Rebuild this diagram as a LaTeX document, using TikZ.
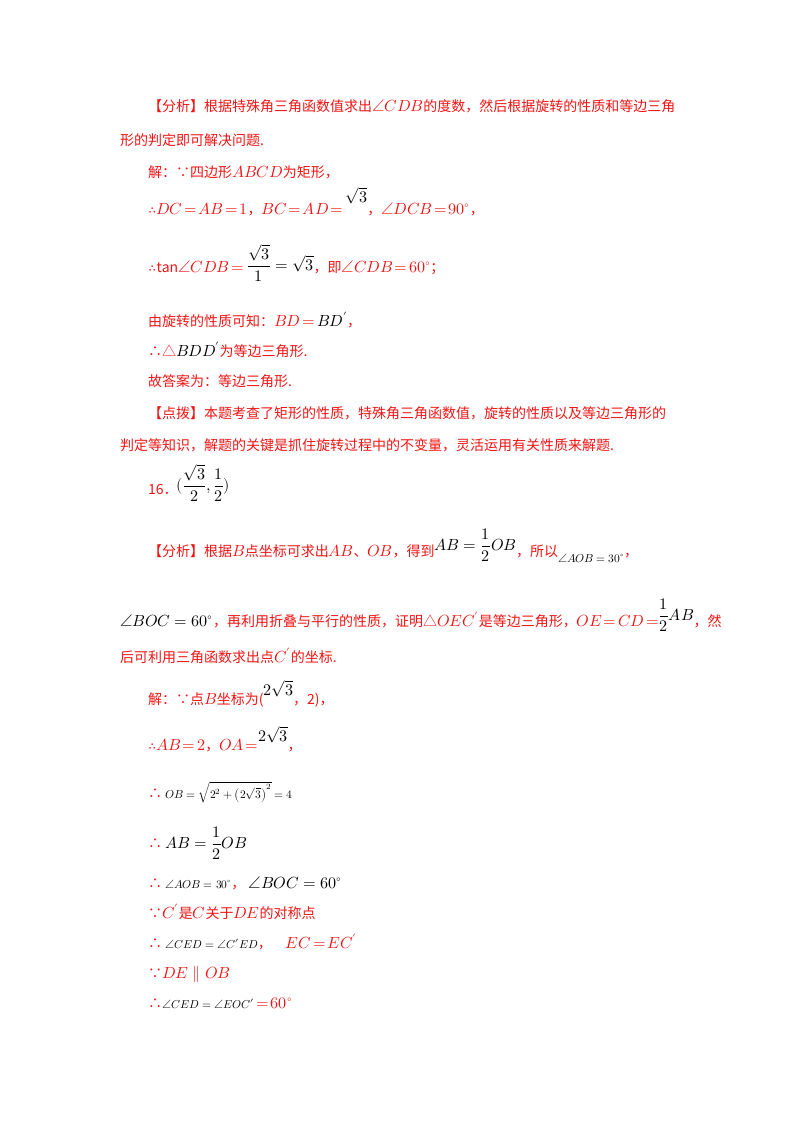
\documentclass[tikz,border=0pt]{standalone}
\usepackage{amsmath}
\usepackage{fontspec}
\usepackage{unicode-math}
\setmainfont{Noto Sans CJK SC}
\setmathfont{Latin Modern Math}[Scale=1.15]
\definecolor{rd}{RGB}{240,20,20}
\newcommand\smm{\fontsize{10}{12}\selectfont}
\begin{document}
\begin{tikzpicture}[x=1pt,y=1pt,
  ln/.style={anchor=base west,inner sep=0pt,text=rd,font=\fontsize{14}{16}\selectfont},
  bk/.style={anchor=base west,inner sep=0pt,text=black,font=\fontsize{14}{16}\selectfont}]
\useasboundingbox (0,0) rectangle (800,-1132);
\node[ln] (l1) at (148,-111) {【分析】根据特殊角三角函数值求出$\angle CDB$的度数，然后根据旋转的性质和等边三角};
\node[ln] (l2) at (120,-145) {形的判定即可解决问题.};
\node[ln] (l3) at (148,-177) {解：∵四边形$ABCD$为矩形，};
\node[ln] (l4) at (148,-214) {$\therefore DC\!=\!AB\!=\!1$，$BC\!=\!AD\!=$\ \raisebox{12pt}{\color{black}$\sqrt3$}，$\angle DCB\!=\!90^\circ$，};
\node[ln] (l5) at (148,-272) {$\therefore\mathrm{tan}\angle CDB\!=$\ \raisebox{2pt}{\color{black}$\dfrac{\sqrt3}{1}=\sqrt3$}，即$\angle CDB\!=\!60^\circ$；};
\node[ln] (l6) at (148,-326) {由旋转的性质可知：$BD\!=\,$\textcolor{black}{$BD'$}，};
\node[ln] (l7) at (148,-356) {∴△\textcolor{black}{$BDD'$}为等边三角形.};
\node[ln] (l8) at (148,-386) {故答案为：等边三角形.};
\node[ln] (l9) at (148,-418) {【点拨】本题考查了矩形的性质，特殊角三角函数值，旋转的性质以及等边三角形的};
\node[ln] (l10) at (120,-450) {判定等知识，解题的关键是抓住旋转过程中的不变量，灵活运用有关性质来解题.};
\node[ln] (l11) at (148,-494) {16．};
\node[bk] (l11b) at (176,-490) {$(\dfrac{\sqrt3}{2},\dfrac12)$};
\node[ln] (l12) at (148,-556) {【分析】根据$B$点坐标可求出$AB$、$OB$，得到\raisebox{6pt}{\color{black}$AB=\dfrac12 OB$}，所以\raisebox{-6pt}{\color{black}\smm$\angle AOB=30^\circ$}，};
\node[ln] (l13) at (120,-626) {\textcolor{black}{$\angle BOC=60^\circ$}，再利用折叠与平行的性质，证明△$OEC'$是等边三角形，$OE\!=\!CD\!=$\raisebox{6pt}{\color{black}$\dfrac12AB$}，然};
\node[ln] (l14) at (120,-662) {后可利用三角函数求出点$C'$的坐标.};
\node[ln] (l15) at (148,-704) {解：∵点$B$坐标为(\raisebox{9pt}{\color{black}$2\sqrt3$}，2)，};
\node[ln] (l16) at (148,-750) {$\therefore AB\!=\!2$，$OA\!=$\raisebox{9pt}{\color{black}$2\sqrt3$}，};
\node[ln] (l17) at (148,-798) {∴ \textcolor{black}{\smm$OB=\sqrt{2^2+\left(2\sqrt3\right)^2}=4$}};
\node[ln] (l18) at (148,-848) {∴ \textcolor{black}{$AB=\dfrac12OB$}};
\node[ln] (l19) at (148,-888) {∴ \textcolor{black}{\smm$\angle AOB=30^\circ$}，\ \textcolor{black}{$\angle BOC=60^\circ$}};
\node[ln] (l20) at (148,-918) {∵$C'$是$C$关于$DE$的对称点};
\node[ln] (l21) at (148,-948) {∴ \textcolor{black}{\smm$\angle CED=\angle C'ED$}，\quad $EC\!=\!EC'$};
\node[ln] (l22) at (148,-978) {∵$DE\parallel OB$};
\node[ln] (l23) at (148,-1008) {∴\textcolor{black}{\smm$\angle CED=\angle EOC'$}$\,=\!60^\circ$};
\end{tikzpicture}
\end{document}
